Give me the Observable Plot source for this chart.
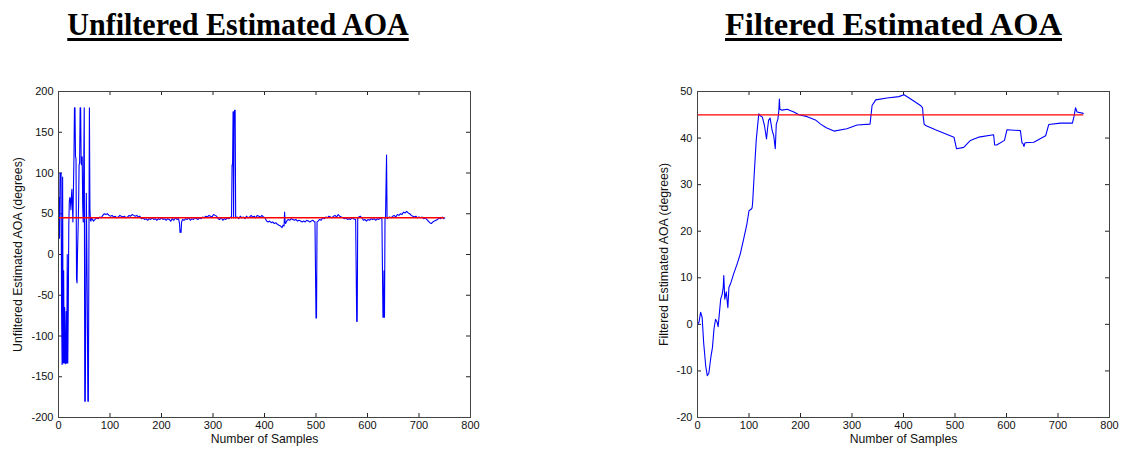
<!DOCTYPE html>
<html><head><meta charset="utf-8">
<script src="https://cdn.jsdelivr.net/npm/d3@7"></script>
<script src="https://cdn.jsdelivr.net/npm/@observablehq/plot@0.6"></script>
<style>
body{margin:0;background:#fff;}
#wrap{position:relative;width:1122px;height:452px;overflow:hidden;font-family:"Liberation Sans",Arial,sans-serif;}
.title{position:absolute;top:8px;font-family:"Liberation Serif","Times New Roman",serif;font-weight:bold;font-size:32.5px;line-height:1;text-decoration:underline;text-decoration-thickness:3px;text-underline-offset:3px;white-space:nowrap;color:#000;transform-origin:50% 50%;}
.chart{position:absolute;top:60px;}
</style></head><body><div id="wrap">
<div class="title" id="t1" style="left:237.5px;transform:translateX(-50%) scaleX(0.924)"></div>
<div class="title" id="t2" style="left:893.5px;transform:translateX(-50%)"></div>
<div class="chart" id="c1" style="left:0"></div>
<div class="chart" id="c2" style="left:620px"></div>
</div>
<script>
// ---- data ----
const titles = ["Unfiltered Estimated AOA", "Filtered Estimated AOA"];
const xLabel = "Number of Samples";
const yLabels = ["Unfiltered Estimated AOA (degrees)", "Filtered Estimated AOA (degrees)"];
const xTicks = [0, 100, 200, 300, 400, 500, 600, 700, 800];
const yTicksUnfiltered = [-200, -150, -100, -50, 0, 50, 100, 150, 200];
const yTicksFiltered = [-20, -10, 0, 10, 20, 30, 40, 50];
const trueAOA = 45;
const trueAOARange = [0, 750];

// [sample, degrees]
const unfiltered = [
[0,40],[1,70],[2,20],[3,100],[4,95],[5,100],[6,-70],[7,-135],[8,95],[9,-133],[10,-20],[11,-133],[12,-65],[13,-133],[14,-134],[15,-70],[16,-133],[17,0],[18,-133],[19,-65],[20,37],[21,65],[22,70],[23,68],[24,55],[25,70],[26,80],[27,60],[28,40],[29,80],[30,118],[31,180],[32,180],[33,120],[34,118],[35,-30],[36,-35],[37,5],[38,30],[39,60],[40,110],[41,112],[42,180],[43,180],[44,112],[45,110],[46,120],[47,60],[48,40],[49,110],[50,180],[51,-180],[52,-180],[53,-52],[54,75],[55,10],[56,-70],[57,-180],[58,-180],[59,0],[60,180],[61,57],[62,42],[63,41],[64,45],
[65,44],[68,41],[71,43],[74,45],[77,44],[80,46],[83,45],[86,48],[89,50],[92,49],[95,50],[98,48],[101,47],[104,48],[107,46],[110,47],[113,45],[116,46],[119,48],[122,47],[125,46],[128,47],[131,45],[134,46],[137,48],[140,47],[143,49],[146,48],[149,47],[152,48],[155,46],[158,47],[161,44],[164,45],[167,43],[170,44],[173,42],[176,44],[179,43],[182,45],[185,43],[188,44],[191,42],[194,44],[197,43],[200,45],[203,43],[206,44],[209,42],[212,44],[215,43],[218,41],[221,44],[224,42],[227,45],[230,43],[233,44],[235,38],[236,27],[237,30],[238,27],[239,40],[241,43],[244,42],[247,44],[250,43],[253,45],[256,42],[259,44],[262,43],[265,45],[268,44],[271,43],[274,45],[277,44],[280,46],[283,45],[286,47],[289,46],[292,48],[295,47],[298,46],[301,49],[304,48],[307,47],[310,44],[313,43],[316,45],[319,42],[322,44],[325,43],[328,45],[331,44],[334,46],
[336,45],[337,110],[338,110],[339,175],[340,45],[341,175],[342,177],[343,177],[344,45],
[347,46],[350,44],[353,47],[356,45],[359,46],[362,44],[365,47],[368,45],[371,46],[374,48],[377,46],[380,47],[383,45],[386,48],[389,47],[392,46],[395,48],[398,46],[401,45],[404,41],[407,40],[410,41],[413,39],[416,40],[419,38],[422,39],[425,37],[428,36],[431,35],[434,33],[436,36],[438,35],[439,52],[440,40],[441,38],[443,41],[446,43],[449,42],[452,44],[455,43],[458,42],[461,43],[464,41],[467,42],[470,41],[473,40],[476,41],[479,40],[482,42],[485,41],[488,40],[491,41],[494,42],[497,40],
[498,40],[499,-18],[500,-78],[501,-78],[502,40],
[504,41],[507,43],[510,42],[513,45],[516,44],[519,46],[522,45],[525,47],[528,46],[531,45],[534,47],[537,48],[540,46],[543,49],[546,47],[549,46],[552,45],[555,44],[558,45],[561,43],[564,44],[567,43],[570,45],[573,44],[576,43],
[577,43],[578,-18],[579,-82],[580,-82],[581,44],
[583,46],[586,47],[589,45],[592,42],[595,43],[598,41],[601,43],[604,42],[607,44],[610,43],[613,44],[616,42],[619,44],[622,43],[625,45],[627,44],
[628,44],[629,-16],[630,-77],[631,-77],[632,-20],[633,-77],[634,44],[635,45],[636,84],[637,122],[638,44],
[640,45],[643,46],[646,45],[649,47],[652,48],[655,46],[658,49],[661,48],[664,50],[667,49],[670,52],[673,51],[676,53],[679,51],[682,50],[685,48],[688,47],[691,46],[694,47],[697,45],[700,46],[703,45],[706,46],[709,44],[712,45],[715,43],[718,41],[721,39],[724,38],[727,40],[730,41],[733,42],[736,43],[739,45],[742,44],[745,46],[748,44],[750,45]
];

// [sample, degrees]
const filtered = [
[0,0],[3,0.5],[6,2.6],[9,1.5],[12,-4],[16,-9],[19,-11],[22,-10.5],[26,-7],[29,-5],[32,-1],[35,1.1],[38,0.5],[40,-0.5],[43,3],[45,5.4],[48,6.5],[50,8],[51,10.5],[53,5.4],[55,6.5],[56,7],[58,4.5],[59,3.6],[61,7.9],[65,9],[70,10.8],[77,13],[83,15.1],[90,18.5],[96,21.6],[100,24.4],[104,24.7],[106,25],[107,26],[110,32],[114,39.5],[117,43],[119,45.2],[122,44.8],[126,44.5],[130,42.7],[134,39.8],[136,42],[138,43.8],[141,44.3],[145,41.6],[148,40.5],[151,37.7],[153,43],[156,44],[158,46],[159,48.4],[160,46.2],[164,46],[174,46.2],[187,45.6],[197,45],[213,44.6],[229,43.9],[239,43],[250,42.2],[265,41.5],[290,42],[310,42.8],[335,43],[339,47],[346,48.2],[368,48.6],[391,48.9],[401,49.3],[414,48.4],[433,47],[437,46.5],[438,45],[440,43],[443,42.7],[462,41.8],[498,40.2],[503,37.7],[517,38],[530,39.5],[537,39.8],[546,40.2],[575,40.7],[577,38.5],[581,38.5],[596,39.5],[601,41.8],[627,41.6],[630,39],[632,38.8],[634,38.2],[636,39],[653,39.1],[676,40.5],[682,42.9],[705,43.2],[728,43.2],[731,44.6],[734,46.5],[737,45.6],[749,45.3]
];

document.getElementById("t1").textContent = titles[0];
document.getElementById("t2").textContent = titles[1];

// ---- charts ----
function makeChart({data, yDomain, yTicks, yLabel, width, marginLeft, marginRight, yLabelDx, redWidth}) {
  const height = 392, marginTop = 31, marginBottom = 35;
  const innerW = width - marginLeft - marginRight;
  const innerH = height - marginTop - marginBottom;
  const tl = 4;
  return Plot.plot({
    width, height, marginLeft, marginRight, marginTop, marginBottom,
    style: {fontFamily: "'Liberation Sans', Arial, sans-serif", fontSize: "11px", color: "#111", background: "transparent", overflow: "visible"},
    x: {domain: [0, 800]},
    y: {domain: yDomain},
    marks: [
      Plot.axisX(xTicks, {tickSize: 0, tickPadding: 4, label: null, fill: "#111", tickFormat: d => String(d)}),
      Plot.axisY(yTicks, {tickSize: 0, tickPadding: 5, label: null, fill: "#111", tickFormat: d => String(d)}),
      Plot.tickX(xTicks, {x: d => d, insetTop: innerH - tl, stroke: "#222"}),
      Plot.tickX(xTicks, {x: d => d, insetBottom: innerH - tl, stroke: "#222"}),
      Plot.tickY(yTicks, {y: d => d, insetRight: innerW - tl, stroke: "#222"}),
      Plot.tickY(yTicks, {y: d => d, insetLeft: innerW - tl, stroke: "#222"}),
      Plot.line(data, {x: d => d[0], y: d => d[1], stroke: "#0000ff", strokeWidth: 1.1}),
      Plot.ruleY([trueAOA], {x1: trueAOARange[0], x2: trueAOARange[1], stroke: "#ff0000", strokeWidth: redWidth}),
      Plot.frame({stroke: "#444", strokeWidth: 1}),
      Plot.text([xLabel], {frameAnchor: "bottom", dy: 25, fontSize: 12.2, fill: "#111", textAnchor: "middle"}),
      Plot.text([yLabel], {frameAnchor: "left", dx: yLabelDx, rotate: -90, fontSize: 12.3, fill: "#111", textAnchor: "middle"})
    ]
  });
}

document.getElementById("c1").append(makeChart({
  data: unfiltered, yDomain: [-200, 200], yTicks: yTicksUnfiltered, yLabel: yLabels[0],
  width: 560, marginLeft: 58, marginRight: 90, yLabelDx: -40, redWidth: 1.5
}));
document.getElementById("c2").append(makeChart({
  data: filtered, yDomain: [-20, 50], yTicks: yTicksFiltered, yLabel: yLabels[1],
  width: 500, marginLeft: 77, marginRight: 11, yLabelDx: -33, redWidth: 1.3
}));
</script>
</body></html>
